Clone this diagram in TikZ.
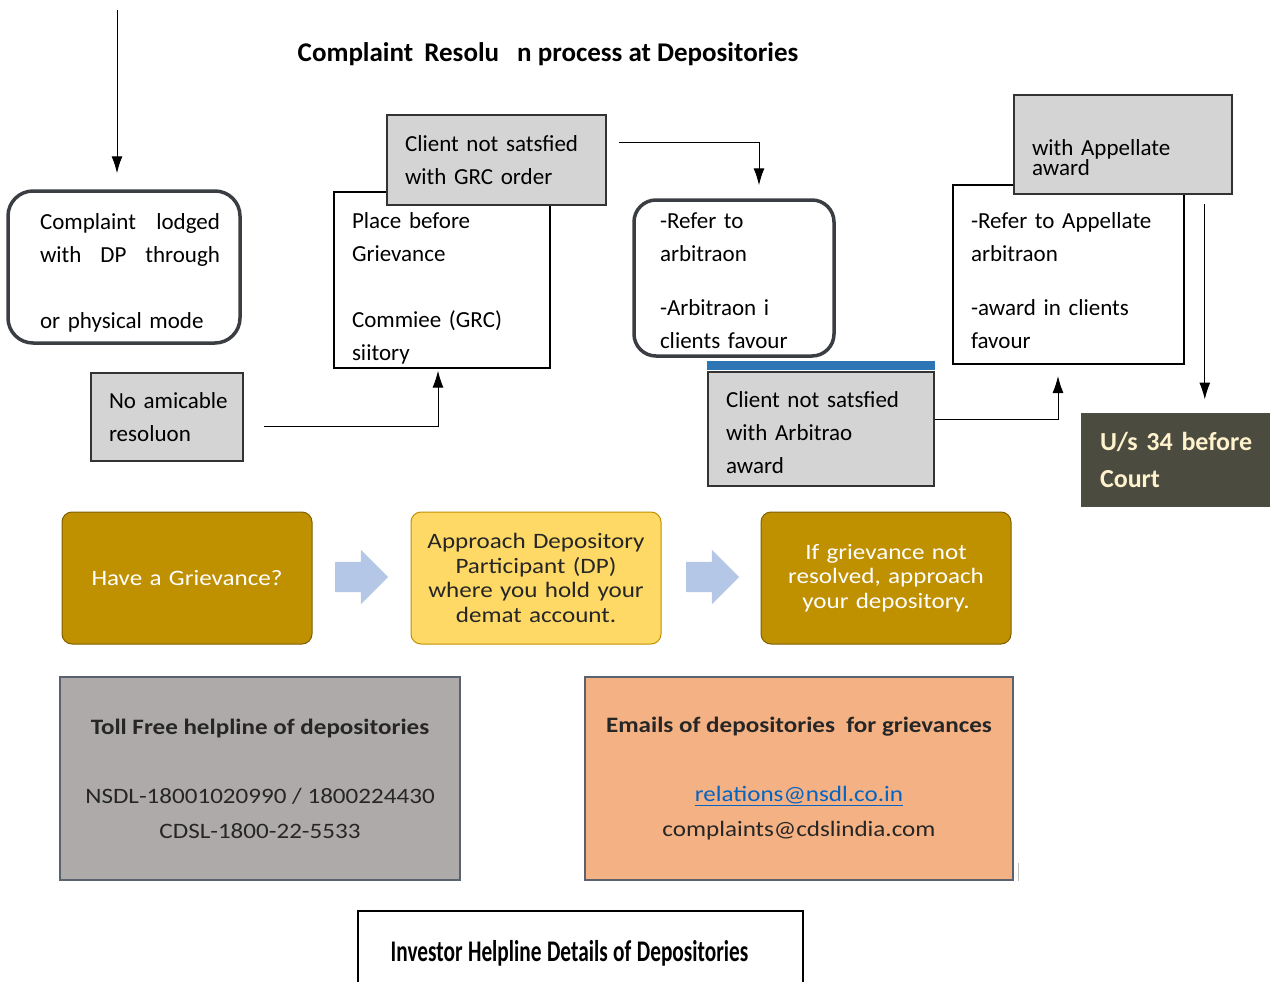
\documentclass[tikz,border=0pt]{standalone}
\usepackage{fontspec}
\setmainfont{Carlito}
\newfontfamily\narrowfont[FakeStretch=0.71]{Carlito}
\newfontfamily\widefont[FakeStretch=1.14]{Carlito}
\usetikzlibrary{arrows.meta}
\usetikzlibrary{shapes.arrows}
\usetikzlibrary{positioning}

\definecolor{framegrey}{HTML}{3A3D42}
\definecolor{boxgrey}{HTML}{D4D4D4}
\definecolor{barblue}{HTML}{2E75B6}
\definecolor{courtolive}{HTML}{4B4B3F}
\definecolor{courttext}{HTML}{FFF2CC}
\definecolor{gold}{HTML}{BF9000}
\definecolor{goldedge}{HTML}{7F6000}
\definecolor{paleyellow}{HTML}{FFD966}
\definecolor{arrowblue}{HTML}{B4C7E7}
\definecolor{tollgrey}{HTML}{AEAAAA}
\definecolor{infoedge}{HTML}{5A6270}
\definecolor{mailorange}{HTML}{F4B183}
\definecolor{linkblue}{HTML}{0563C1}

\newcommand\flowfont{\fontsize{23}{33}\selectfont}
\newcommand\cardfont{\widefont\fontsize{22}{24.7}\selectfont}
\newcommand\infofont{\widefont\fontsize{22}{35}\selectfont}
\newcommand\topgap[1]{\rule{0pt}{#1}}
\newcommand\gapsp{\hspace{5.5pt}}

\begin{document}
\begin{tikzpicture}[x=1pt,y=-1pt,
  >={Latex[length=17pt,width=11pt]},
  every node/.style={font=\flowfont},
  roundbox/.style={draw=framegrey, line width=3.5pt, rounded corners=22pt, align=left},
  plainbox/.style={draw, line width=2pt, fill=white, align=left, inner xsep=18pt},
  greybox/.style={draw=black!80, line width=1.6pt, fill=boxgrey, align=left, inner xsep=18pt},
  courtbox/.style={draw=black!70, line width=1pt, fill=courtolive, text=courttext, align=left,
    inner xsep=19pt, font=\bfseries\fontsize{26}{37}\selectfont},
  card/.style={draw=goldedge, line width=1pt, rounded corners=10pt, minimum width=250pt,
    minimum height=132pt, text width=230pt, align=center, font=\cardfont},
  blockarrow/.style={single arrow, fill=arrowblue, inner sep=15pt, single arrow head extend=12pt,
    minimum height=53pt},
  infobox/.style={draw=infoedge, line width=1.2pt, minimum height=203pt, align=center,
    text=black!85, font=\infofont},
  flow/.style={->, line width=1pt}]
\useasboundingbox (0,0) rectangle (1270,982);

\node[font=\bfseries\fontsize{27}{30}\selectfont] (title) at (548,54)
  {Complaint\hspace{5pt} Resolu\hspace{18pt}n process at Depositories};

\coordinate (top) at (117,10);
\node[roundbox, inner xsep=26pt, text width=180pt, minimum height=152pt, rounded corners=25pt] (lodge) at (124,267)
  {\hspace*{6pt}\hbox to 180pt{\topgap{28pt}Complaint\hfill lodged}\\
   \hspace*{6pt}\hbox to 180pt{with\hfill DP\hfill through}\\[33pt]
   \hspace*{6pt}or physical mode};
\node[plainbox, text width=180pt, minimum height=172pt] (grv) at (442,280)
  {\topgap{33pt}Place before\\Grievance\\[33pt]Commiee (GRC)\\siitory};
\node[greybox, text width=183pt, minimum height=90pt] (grc) at (496.5,160)
  {Client not satsfied\\with GRC order};
\node[roundbox, inner xsep=26pt, text width=148pt, minimum height=156pt] (arb) at (734,278)
  {\topgap{22pt}-Refer to\\arbitraon\\[21pt]-Arbitraon i\\clients favour};
\node[greybox, text width=124pt, inner xsep=14pt, minimum height=88pt] (amic) at (167,417)
  {\hspace*{4pt}No amicable\\\hspace*{4pt}resoluon};
\node[greybox, text width=190pt, minimum height=114pt] (arbno) at (821,429)
  {\topgap{24pt}Client not satsfied\\with Arbitrao\\award};
\fill[barblue] ([yshift=1pt]arbno.north west) rectangle ([yshift=10pt]arbno.north east);
\node[plainbox, text width=195pt, minimum height=179pt] (appel) at (1068.5,274.5)
  {\topgap{28pt}-Refer to Appellate\\arbitraon\\[21pt]-award in clients\\favour};
\node[greybox, text width=182pt, minimum height=99pt, font=\fontsize{23}{20}\selectfont] (appno) at (1123,144.5)
  {\topgap{42pt}with Appellate\\award};
\node[courtbox, text width=156pt, minimum height=93pt] (court) at (1178,459.5)
  {U/s 34 before\\Court};

\draw[flow] (top) -- ([yshift=16pt]top |- lodge.north);
\draw[flow] ([xshift=12pt,yshift=18pt]grc.east) -| ([xshift=25pt,yshift=13pt]arb.north);
\draw[flow] ([xshift=20pt,yshift=-9pt]amic.east) -| ([xshift=-4pt,yshift=-2pt]grv.south);
\draw[flow] ([yshift=10pt]arbno.east) -| ([xshift=-10.5pt,yshift=-11pt]appel.south);
\draw[flow] ([xshift=-28pt,yshift=-9pt]appno.south east) coordinate (down) -- ([yshift=13pt]down |- court.north);

% grievance steps
\node[card, fill=gold, text=white] (have) at (187,578) {Have a Grievance?};
\node[card, fill=paleyellow, draw=gold, text=black!85] (dp) at (536,578)
  {Approach Depository\\Participant (DP)\\where you hold your\\demat account.};
\node[card, fill=gold, text=white] (depo) at (886,578)
  {If grievance not\\resolved, approach\\your depository.};
\node[blockarrow] (arrA) at (354,577) {};
\node[blockarrow] (arrB) at (705,577) {};

% helpline details
\node[infobox, fill=tollgrey, minimum width=400pt] (toll) at (260,778.5)
  {\textbf{Toll Free helpline of depositories}\\[34pt]NSDL-18001020990 / 1800224430\\CDSL-1800-22-5533};
\node[infobox, fill=mailorange, minimum width=428pt] (mail) at (799,778.5)
  {\textbf{Emails of depositories\ \ for grievances}\\[34pt]\textcolor{linkblue}{\underline{relations@nsdl.co.in}}\\complaints@cdslindia.com};
\draw[black!25, line width=1pt] ([xshift=5pt]mail.south east) -- ([xshift=5pt,yshift=18pt]mail.south east);
\node[draw, line width=1.5pt, minimum width=445pt, minimum height=84pt,
  font=\narrowfont\bfseries\fontsize{30}{34}\selectfont] (invest) at (580.5,953)
  {\hspace{-22pt}Investor\gapsp Helpline\gapsp Details\gapsp of\gapsp Depositories};
\end{tikzpicture}
\end{document}
